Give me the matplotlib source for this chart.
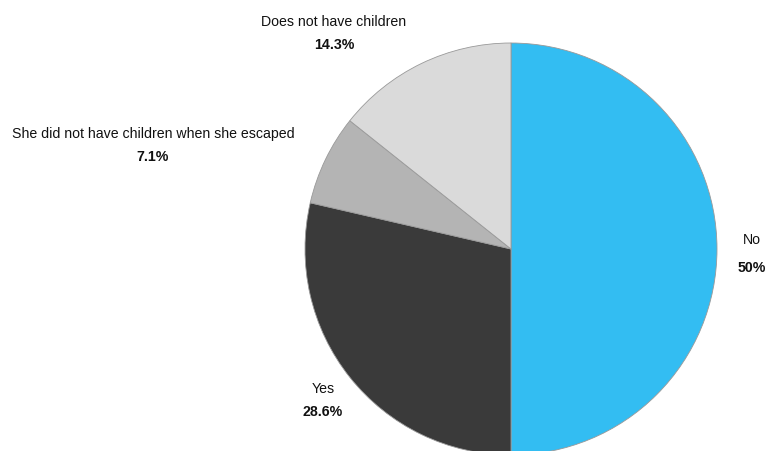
import matplotlib
matplotlib.use("Agg")
import matplotlib.pyplot as plt

categories = ["No", "Yes", "She did not have children when she escaped", "Does not have children"]
values = [50.0, 28.6, 7.1, 14.3]
pct_labels = ["50%", "28.6%", "7.1%", "14.3%"]
colors = ["#33BDF2", "#3A3A3A", "#B4B4B4", "#DADADA"]

W, H = 765, 452
fig = plt.figure(figsize=(W / 100, H / 100), dpi=100)
ax = fig.add_axes([0, 0, 1, 1])

cx, cy, r = 511, H - 250, 206
ax.pie(values, colors=colors, startangle=90, counterclock=False,
       center=(cx, cy), radius=r, frame=True,
       wedgeprops=dict(edgecolor="#999999", linewidth=0.6))
ax.set_xlim(0, W)
ax.set_ylim(0, H)
ax.set_aspect("equal")
ax.axis("off")

# label positions (pixel coords from top)
label_pos = [(752, 240, 268), (323, 389, 412), (153, 134, 157), (334, 22, 45)]
font = "Liberation Sans"
for cat, pct, (x, y1, y2) in zip(categories, pct_labels, label_pos):
    ax.text(x, H - y1, cat, ha="center", va="center", fontsize=10.2,
            family=font, color="#111111")
    ax.text(x, H - y2, pct, ha="center", va="center", fontsize=10.2,
            family=font, fontweight="bold", color="#111111")

fig.savefig("out.png", dpi=100)
